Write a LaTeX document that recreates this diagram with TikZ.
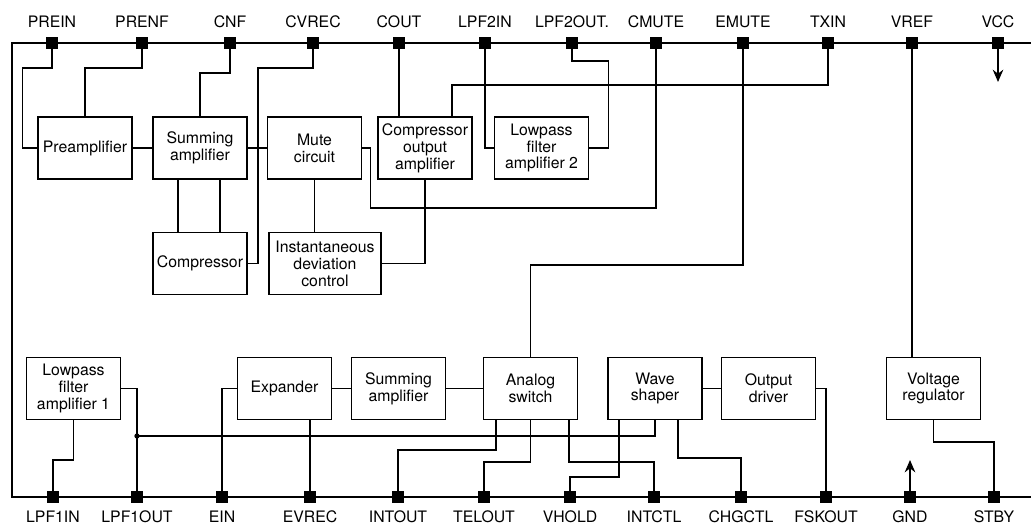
\documentclass[tikz,border=0pt]{standalone}
\usepackage{fontspec}
\setmainfont{TeX Gyre Heros}
\usetikzlibrary{arrows.meta}

\begin{document}
\begin{tikzpicture}[
    x=0.02cm, y=-0.02cm,
    font=\fontsize{9}{9.6}\selectfont,
    block/.style={draw, line width=0.9pt, align=center, inner sep=1pt,
        minimum width=1.88cm, minimum height=1.24cm},
    term/.style={fill=black, minimum size=0.24cm, inner sep=0pt},
    tlbl/.style={label={[inner sep=0pt, label distance=0.18cm]above:#1}},
    blbl/.style={label={[inner sep=0pt, label distance=0.14cm]below:#1}},
    wire/.style={line width=0.8pt},
    bus/.style={line width=0.6pt},
    arr/.style={-{Stealth[length=7pt, width=6pt]}, line width=0.9pt}
]
    \useasboundingbox (0,0) rectangle (1031,527);

    % outer frame
    \coordinate (tl) at (12,43);
    \coordinate (tr) at (1031,43);
    \coordinate (bl) at (12,497);
    \coordinate (br) at (1031,497);
    \draw[bus] (tr) -- (tl) -- (bl) -- (br);
    \draw[line width=1.4pt] (tl) -- (bl);

    % upper terminals
    \node[term, tlbl=PREIN] (prein) at (52,43) {};
    \node[term, tlbl=PRENF] (prenf) at (142,43) {};
    \node[term, tlbl=CNF] (cnf) at (230,43) {};
    \node[term, tlbl=CVREC] (cvrec) at (313,43) {};
    \node[term, tlbl=COUT] (cout) at (399,43) {};
    \node[term, tlbl=LPF2IN] (lpf2in) at (485,43) {};
    \node[term, tlbl=LPF2OUT.] (lpf2out) at (572,43) {};
    \node[term, tlbl=CMUTE] (cmute) at (656,43) {};
    \node[term, tlbl=EMUTE] (emute) at (743,43) {};
    \node[term, tlbl=TXIN] (txin) at (828,43) {};
    \node[term, tlbl=VREF] (vref) at (912,43) {};
    \node[term, tlbl=VCC] (vcc) at (998,43) {};

    % lower terminals
    \node[term, blbl=LPF1IN] (lpf1in) at (53,497) {};
    \node[term, blbl=LPF1OUT] (lpf1out) at (137,497) {};
    \node[term, blbl=EIN] (ein) at (222,497) {};
    \node[term, blbl=EVREC] (evrec) at (310,497) {};
    \node[term, blbl=INTOUT] (intout) at (398,497) {};
    \node[term, blbl=TELOUT] (telout) at (484,497) {};
    \node[term, blbl=VHOLD] (vhold) at (570,497) {};
    \node[term, blbl=INTCTL] (intctl) at (654,497) {};
    \node[term, blbl=CHGCTL] (chgctl) at (741,497) {};
    \node[term, blbl=FSKOUT] (fskout) at (826,497) {};
    \node[term, blbl=GND] (gnd) at (910,497) {};
    \node[term, blbl=STBY] (stby) at (994,497) {};

    % transmit blocks
    \node[block] (pre) at (85,148) {Preamplifier};
    \node[block] (sum1) at (200,148) {Summing\\amplifier};
    \node[block] (mute) at (314.5,148) {Mute\\circuit};
    \node[block] (coa) at (425,148) {Compressor\\output\\amplifier};
    \node[block] (lpf2) at (541.5,148) {Lowpass\\filter\\amplifier 2};
    \node[block] (comp) at (200,263.5) {Compressor};
    \node[block, minimum width=2.24cm] (idc) at (325,263.5) {Instantaneous\\deviation\\control};

    % receive blocks
    \node[block] (lpf1) at (73.5,388.5) {Lowpass\\filter\\amplifier 1};
    \node[block] (exp) at (284.5,388.5) {Expander};
    \node[block] (sum2) at (398.5,388.5) {Summing\\amplifier};
    \node[block] (asw) at (530.5,388.5) {Analog\\switch};
    \node[block] (wave) at (655,388.5) {Wave\\shaper};
    \node[block] (drv) at (768.5,388.5) {Output\\driver};
    \node[block] (vreg) at (933.5,388.5) {Voltage\\regulator};

    \coordinate (vccend) at (998,82);
    \coordinate (gndend) at (910,460);
    \coordinate (jn) at (137,436);

    % upper wiring
    \draw[wire] (prein) -- ++(0,25) -| ([xshift=-0.3cm]pre.west) -- (pre.west);
    \draw[wire] (prenf) -- ++(0,25) -| (pre.north);
    \draw[wire] (cnf) -- ++(0,30) -| (sum1.north);
    \draw[wire] (cvrec) -- ++(0,25) -- ++(-55,0) |- (comp.east);
    \draw[wire] (pre) -- (sum1);
    \draw[wire] (sum1) -- (mute);
    \draw[wire] ([xshift=-0.44cm]sum1.south) -- ([xshift=-0.44cm]comp.north);
    \draw[wire] ([xshift=0.4cm]sum1.south) -- ([xshift=0.4cm]comp.north);
    \draw[wire] (mute.south) -- (mute.south |- idc.north);
    \draw[wire] (cmute) -- ++(0,165) -| ([xshift=0.16cm]mute.east) -- (mute.east);
    \draw[wire] (cout) -- (cout |- coa.north);
    \draw[wire] (txin) -- ++(0,42) -| ([xshift=0.54cm]coa.north);
    \draw[wire] (coa.south) |- (idc.east);
    \draw[wire] (lpf2in) |- (lpf2.west);
    \draw[wire] (lpf2out) -- ++(0,18) -| ([xshift=0.38cm]lpf2.east) -- (lpf2.east);
    \draw[wire] (emute) -- ++(0,222) -| (asw.north);
    \draw[wire] (vref) -- (vref |- vreg.north);
    \draw[arr] (vcc) -- (vccend);

    % lower wiring
    \draw[wire] (lpf1in) -- ++(0,-37) -| (lpf1.south);
    \draw[wire] (lpf1.east) -| (lpf1out);
    \draw[wire] (wave.south) |- (jn);
    \fill (jn) circle (1.5pt);
    \draw[wire] (ein) |- (exp.west);
    \draw[wire] (evrec) -- (evrec |- exp.south);
    \draw[wire] (exp) -- (sum2);
    \draw[wire] (sum2) -- (asw);
    \draw[wire] (wave) -- (drv);
    \draw[wire] (intout) -- ++(0,-47) -| ([xshift=-0.69cm]asw.south);
    \draw[wire] (telout) -- ++(0,-35) -| (asw.south);
    \draw[wire] (intctl) -- ++(0,-35) -| ([xshift=0.77cm]asw.south);
    \draw[wire] (vhold) -- ++(0,-20) -| ([xshift=-0.72cm]wave.south);
    \draw[wire] (chgctl) -- ++(0,-39) -| ([xshift=0.46cm]wave.south);
    \draw[wire] (drv.east) -| (fskout);
    \draw[wire] (stby) -- ++(0,-55) -| (vreg.south);
    \draw[arr] (gnd) -- (gndend);
\end{tikzpicture}
\end{document}
